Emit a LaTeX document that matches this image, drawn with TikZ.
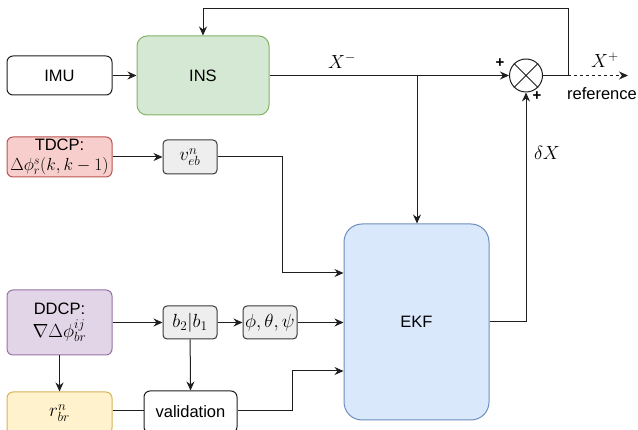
\documentclass[tikz,border=0pt]{standalone}
\usepackage{fix-cm}
\usepackage{fontspec}
\setmainfont{Liberation Sans}
\usetikzlibrary{arrows.meta,calc}

\definecolor{lineclr}{HTML}{1E1E1E}
\definecolor{insfill}{HTML}{D5E8D4}\definecolor{insdraw}{HTML}{82B366}
\definecolor{tdfill}{HTML}{F8CECC}\definecolor{tddraw}{HTML}{B85450}
\definecolor{ddfill}{HTML}{E1D5E7}\definecolor{dddraw}{HTML}{9673A6}
\definecolor{rfill}{HTML}{FFF2CC}\definecolor{rdraw}{HTML}{D6B656}
\definecolor{ekffill}{HTML}{DAE8FC}\definecolor{ekfdraw}{HTML}{6C8EBF}
\definecolor{grfill}{HTML}{EEEEEE}\definecolor{grdraw}{HTML}{36393D}

\newcommand{\mbig}{\fontsize{19}{22}\selectfont}
\newcommand{\mmid}{\fontsize{17.5}{20}\selectfont}

\begin{document}
\begin{tikzpicture}[x=1pt,y=-1pt,
  every node/.style={font=\fontsize{16.5}{19}\selectfont},
  blk/.style={draw=lineclr, line width=1pt, rounded corners=6pt, align=center,
    inner sep=0pt, minimum width=105pt},
  small/.style={draw=grdraw, fill=grfill, line width=1pt, rounded corners=4pt,
    inner sep=0pt, minimum width=54pt, minimum height=33pt, font=\mbig},
  conn/.style={draw=lineclr, line width=1pt},
  arr/.style={conn, -{Stealth[length=9pt,width=8pt]}},
  sgn/.style={font=\fontsize{15}{15}\selectfont\bfseries, inner sep=0pt}]

\useasboundingbox (0,0) rectangle (638,430);
\clip (0,0) rectangle (638,430);

% blocks
\node[blk, minimum height=39pt] (imu) at (59.5,75.5) {IMU};
\node[blk, draw=insdraw, fill=insfill, minimum width=132pt, minimum height=79pt,
  rounded corners=10pt] (ins) at (203,75.5) {INS};
\node[blk, draw=tddraw, fill=tdfill, minimum height=40pt] (tdcp) at (59.5,157)
  {TDCP:\\[1pt]{\mmid$\Delta\phi_r^s(k,k-1)$}};
\node[small, minimum height=34pt] (veb) at (190,157) {$v_{eb}^{n}$};
\node[blk, draw=dddraw, fill=ddfill, minimum height=65pt] (ddcp) at (59.5,322.5)
  {DDCP:\\[4pt]{\mbig$\nabla\Delta\phi_{br}^{ij}$}};
\node[small] (amb) at (190,322.5) {$b_2|b_1$};
\node[small] (att) at (270,322.5) {$\phi,\theta,\psi$};
\node[blk, draw=rdraw, fill=rfill, minimum height=42pt, font=\mbig] (rbr)
  at (59.5,413) {$r_{br}^{n}$};
\node[blk, minimum width=93pt, minimum height=42pt] (val) at (190.5,412)
  {validation};
\node[blk, draw=ekfdraw, fill=ekffill, minimum width=145pt, minimum height=196pt,
  rounded corners=18pt] (ekf) at (416.5,322) {EKF};
\node[draw=lineclr, line width=1pt, circle, minimum size=33pt, inner sep=0pt]
  (sum) at (526,75.5) {};
\draw[conn] (sum.north west) -- (sum.south east) (sum.north east) -- (sum.south west);

% signs and labels
\node[sgn] (p1) at (500,63) {+};
\node[sgn] (p2) at (537,96) {+};
\node[font=\mbig] (xm) at (342,61) {$X^{-}$};
\node[font=\mbig] (xp) at (605,60) {$X^{+}$};
\node (ref) at (602,94) {reference};
\node[font=\mbig] (dx) at (547,153) {$\delta X$};

% junctions
\coordinate (br) at (417,75.5);
\coordinate (fb) at (568,75.5);
\coordinate (out) at (628,75.5);

% connectors
\draw[arr] (imu) -- (ins);
\draw[arr] (ins.east) -- (sum.west);
\draw[arr] (br) -- (br |- ekf.north);
\draw[arr] (ekf.east) -| (sum.south);
\draw[conn] (sum.east) -- (fb);
\draw[arr] (fb) -- (568,9) -| (ins.north);
\draw[arr, dashed] (fb) -- (out);

\draw[arr] (tdcp) -- (veb);
\draw[arr] (veb.east) -- (282,157) |- (ekf.west |- 0,273);
\draw[arr] (ddcp.east |- amb) -- (amb);
\draw[arr] (amb) -- (att);
\draw[arr] (att) -- (ekf.west |- att);
\draw[arr] (ddcp) -- (rbr.north);
\draw[arr] (amb) -- (val.north);
\draw[conn] (rbr.east |- 0,411) -- (val.west |- 0,411);
\draw[arr] (val.east |- 0,411) -- (292,411) |- (ekf.west |- 0,371);
\end{tikzpicture}
\end{document}
